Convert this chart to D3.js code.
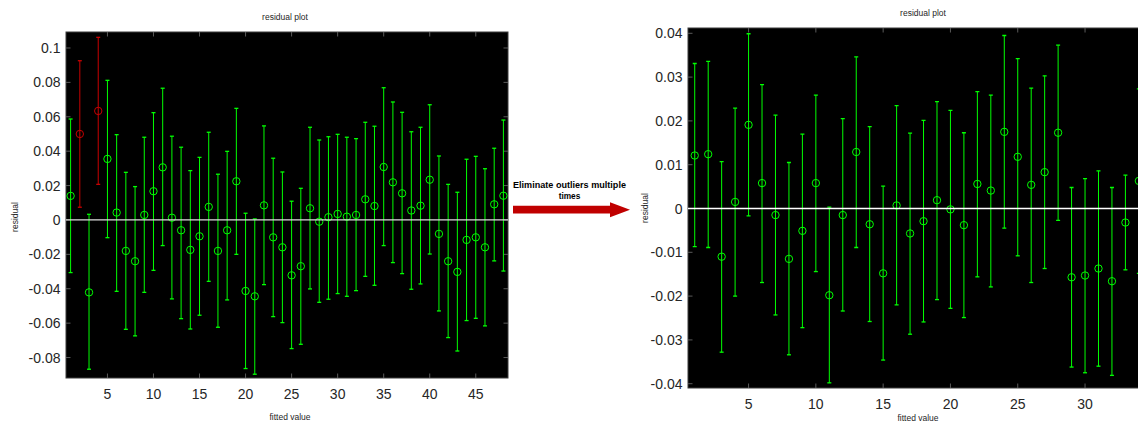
<!DOCTYPE html>
<html><head><meta charset="utf-8">
<script src="https://cdn.jsdelivr.net/npm/d3@7"></script>
<style>body{margin:0;background:#fff}svg{display:block}</style>
</head><body>
<script>
// ---------- DATA ----------
const leftResidual = [0.0140,0.0500,-0.0421,0.0634,0.0355,0.0043,-0.0180,-0.0240,0.0029,0.0167,
  0.0306,0.0013,-0.0060,-0.0174,-0.0095,0.0076,-0.0180,-0.0060,0.0225,-0.0413,
  -0.0444,0.0085,-0.0101,-0.0159,-0.0322,-0.0269,0.0068,-0.0010,0.0016,0.0035,
  0.0019,0.0029,0.0120,0.0081,0.0308,0.0219,0.0155,0.0055,0.0083,0.0234,
  -0.0081,-0.0240,-0.0302,-0.0116,-0.0101,-0.0159,0.0091,0.0141];
const leftLower = [-0.0306,0.0074,-0.0868,0.0207,-0.0103,-0.0415,-0.0636,-0.0674,-0.0421,-0.0293,
  -0.0149,-0.0459,-0.0574,-0.0634,-0.0554,-0.0357,-0.0624,-0.0465,-0.0200,-0.0864,
  -0.0897,-0.0376,-0.0562,-0.0597,-0.0748,-0.0723,-0.0401,-0.0479,-0.0461,-0.0428,
  -0.0444,-0.0411,-0.0328,-0.0380,-0.0149,-0.0248,-0.0312,-0.0403,-0.0372,-0.0198,
  -0.0529,-0.0684,-0.0762,-0.0585,-0.0572,-0.0616,-0.0238,-0.0297];
const leftUpper = [0.0587,0.0926,0.0033,0.1062,0.0812,0.0496,0.0277,0.0194,0.0481,0.0624,
  0.0766,0.0487,0.0423,0.0287,0.0364,0.0510,0.0266,0.0399,0.0649,0.0039,
  0.0006,0.0547,0.0359,0.0279,0.0109,0.0184,0.0539,0.0465,0.0484,0.0498,
  0.0481,0.0473,0.0568,0.0545,0.0769,0.0686,0.0626,0.0513,0.0539,0.0670,
  0.0372,0.0207,0.0161,0.0353,0.0370,0.0298,0.0417,0.0581];
const leftYTicks = [-0.08,-0.06,-0.04,-0.02,0,0.02,0.04,0.06,0.08,0.1];
const leftXTicks = [5,10,15,20,25,30,35,40,45];

const rightResidual = [0.0121,0.0124,-0.0110,0.0015,0.0191,0.0058,-0.0015,-0.0115,-0.0051,0.0058,
  -0.0198,-0.0015,0.0129,-0.0036,-0.0148,0.0007,-0.0057,-0.0029,0.0019,-0.0002,
  -0.0038,0.0056,0.0041,0.0175,0.0118,0.0054,0.0083,0.0173,-0.0157,-0.0153,
  -0.0137,-0.0166,-0.0032,0.0063];
const rightLower = [-0.0087,-0.0089,-0.0328,-0.0200,-0.0017,-0.0169,-0.0243,-0.0334,-0.0272,-0.0144,
  -0.0398,-0.0234,-0.0089,-0.0258,-0.0346,-0.0220,-0.0287,-0.0259,-0.0208,-0.0228,
  -0.0249,-0.0156,-0.0179,-0.0045,-0.0108,-0.0169,-0.0137,-0.0027,-0.0362,-0.0375,
  -0.0360,-0.0381,-0.0140,-0.0148];
const rightUpper = [0.0331,0.0336,0.0107,0.0229,0.0399,0.0283,0.0213,0.0105,0.0170,0.0259,
  0.0003,0.0205,0.0346,0.0187,0.0051,0.0235,0.0172,0.0201,0.0244,0.0224,
  0.0173,0.0267,0.0259,0.0395,0.0342,0.0275,0.0303,0.0373,0.0048,0.0068,
  0.0086,0.0048,0.0076,0.0273];
const rightYTicks = [-0.04,-0.03,-0.02,-0.01,0,0.01,0.02,0.03,0.04];
const rightXTicks = [5,10,15,20,25,30];

const titleText = "residual plot";
const xLabelText = "fitted value";
const yLabelText = "residual";
const arrowText = ["Eliminate outliers multiple", "times"];

// ---------- DRAW ----------
const W = 1138, H = 421;
const svg = d3.select("body").append("svg").attr("width", W).attr("height", H)
  .style("font-family", "'Liberation Sans', Arial, sans-serif");
svg.append("rect").attr("width", W).attr("height", H).attr("fill", "#fff");

function panel(cfg) {
  const rows = cfg.res.map((r, i) => ({i: i + 1, r, lo: cfg.lo[i], hi: cfg.hi[i],
    out: cfg.lo[i] > 0 || cfg.hi[i] < 0}));
  const x = d3.scaleLinear().domain(cfg.xDomain).range([cfg.left, cfg.right]);
  const y = d3.scaleLinear().domain(cfg.yDomain).range([cfg.bottom, cfg.top]);
  const g = svg.append("g");
  const clipId = "clip" + cfg.left;
  g.append("clipPath").attr("id", clipId).append("rect")
    .attr("x", cfg.left).attr("y", cfg.top).attr("width", cfg.right - cfg.left).attr("height", cfg.bottom - cfg.top);
  g.append("rect").attr("x", cfg.left).attr("y", cfg.top)
    .attr("width", cfg.right - cfg.left).attr("height", cfg.bottom - cfg.top)
    .attr("fill", "#000").attr("stroke", "#3c3c3c").attr("stroke-width", 1);

  // ticks inside (all sides)
  const tl = 4.5, tc = "#5a5a5a";
  cfg.xTicks.forEach(t => {
    g.append("line").attr("x1", x(t)).attr("x2", x(t)).attr("y1", cfg.bottom).attr("y2", cfg.bottom - tl).attr("stroke", tc);
    g.append("line").attr("x1", x(t)).attr("x2", x(t)).attr("y1", cfg.top).attr("y2", cfg.top + tl).attr("stroke", tc);
  });
  cfg.yTicks.forEach(t => {
    g.append("line").attr("x1", cfg.left).attr("x2", cfg.left + tl).attr("y1", y(t)).attr("y2", y(t)).attr("stroke", tc);
    g.append("line").attr("x1", cfg.right).attr("x2", cfg.right - tl).attr("y1", y(t)).attr("y2", y(t)).attr("stroke", tc);
  });

  const pg = g.append("g").attr("clip-path", `url(#${clipId})`);
  const col = d => d.out ? "#c80000" : "#00ff00";
  const cap = 2;
  const eb = pg.selectAll("g.eb").data(rows).join("g").attr("class", "eb");
  eb.append("line").attr("x1", d => x(d.i)).attr("x2", d => x(d.i))
    .attr("y1", d => y(d.lo)).attr("y2", d => y(d.hi)).attr("stroke", col).attr("stroke-width", 1);
  eb.append("line").attr("x1", d => x(d.i) - cap).attr("x2", d => x(d.i) + cap)
    .attr("y1", d => y(d.lo)).attr("y2", d => y(d.lo)).attr("stroke", col).attr("stroke-width", 1.3);
  eb.append("line").attr("x1", d => x(d.i) - cap).attr("x2", d => x(d.i) + cap)
    .attr("y1", d => y(d.hi)).attr("y2", d => y(d.hi)).attr("stroke", col).attr("stroke-width", 1.3);
  eb.append("circle").attr("cx", d => x(d.i)).attr("cy", d => y(d.r)).attr("r", 3.7)
    .attr("fill", "none").attr("stroke", col).attr("stroke-width", 1);

  pg.append("line").attr("x1", cfg.left).attr("x2", cfg.right).attr("y1", y(0)).attr("y2", y(0))
    .attr("stroke", cfg.zeroColor).attr("stroke-width", 1.3);

  // tick labels
  const fmt = d => d === 0 ? "0" : String(+d.toFixed(2));
  g.selectAll("text.yt").data(cfg.yTicks).join("text").attr("class", "yt")
    .attr("x", cfg.left - 5.5).attr("y", d => y(d)).attr("dy", "0.36em")
    .attr("text-anchor", "end").attr("font-size", 14).attr("fill", "#262626").text(fmt);
  g.selectAll("text.xt").data(cfg.xTicks).join("text").attr("class", "xt")
    .attr("x", d => x(d)).attr("y", cfg.bottom + 20.5)
    .attr("text-anchor", "middle").attr("font-size", 14).attr("fill", "#262626").text(d => d);

  g.append("text").attr("x", cfg.titleX).attr("y", cfg.titleY).attr("text-anchor", "middle")
    .attr("font-size", 8.5).attr("fill", "#262626").text(titleText);
  g.append("text").attr("x", cfg.xLabelX).attr("y", cfg.xLabelY).attr("text-anchor", "middle")
    .attr("font-size", 8.5).attr("fill", "#262626").text(xLabelText);
  g.append("text").attr("transform", `translate(${cfg.yLabelX},${cfg.yLabelY}) rotate(-90)`)
    .attr("text-anchor", "middle").attr("font-size", 8.5).attr("fill", "#262626").text(yLabelText);
}

panel({res: leftResidual, lo: leftLower, hi: leftUpper, xTicks: leftXTicks, yTicks: leftYTicks,
  xDomain: [0.5, 48.5], yDomain: [-0.0919, 0.1093],
  left: 66, right: 508, top: 32, bottom: 378, zeroColor: "#dcdcdc",
  titleX: 285, titleY: 19.5, xLabelX: 290, xLabelY: 419.5, yLabelX: 18, yLabelY: 217});

panel({res: rightResidual, lo: rightLower, hi: rightUpper, xTicks: rightXTicks, yTicks: rightYTicks,
  xDomain: [0.5, 34.5], yDomain: [-0.04098, 0.04121],
  left: 688, right: 1145.6, top: 28, bottom: 388, zeroColor: "#ffffff",
  titleX: 923, titleY: 15.5, xLabelX: 918, xLabelY: 420.5, yLabelX: 648, yLabelY: 208});

// arrow annotation
const ag = svg.append("g");
ag.append("path")
  .attr("d", "M513,205.8 L610,205.8 L610,202.3 L630,209.8 L610,217.3 L610,213.6 L513,213.6 Z")
  .attr("fill", "#c00000");
ag.append("text").attr("x", 569.5).attr("y", 187.5).attr("text-anchor", "middle")
  .attr("font-size", 8.3).attr("font-weight", "bold").attr("fill", "#000")
  .attr("textLength", 113).attr("lengthAdjust", "spacingAndGlyphs").text(arrowText[0]);
ag.append("text").attr("x", 569.5).attr("y", 198.5).attr("text-anchor", "middle")
  .attr("font-size", 8.3).attr("font-weight", "bold").attr("fill", "#000").text(arrowText[1]);
</script>
</body></html>
